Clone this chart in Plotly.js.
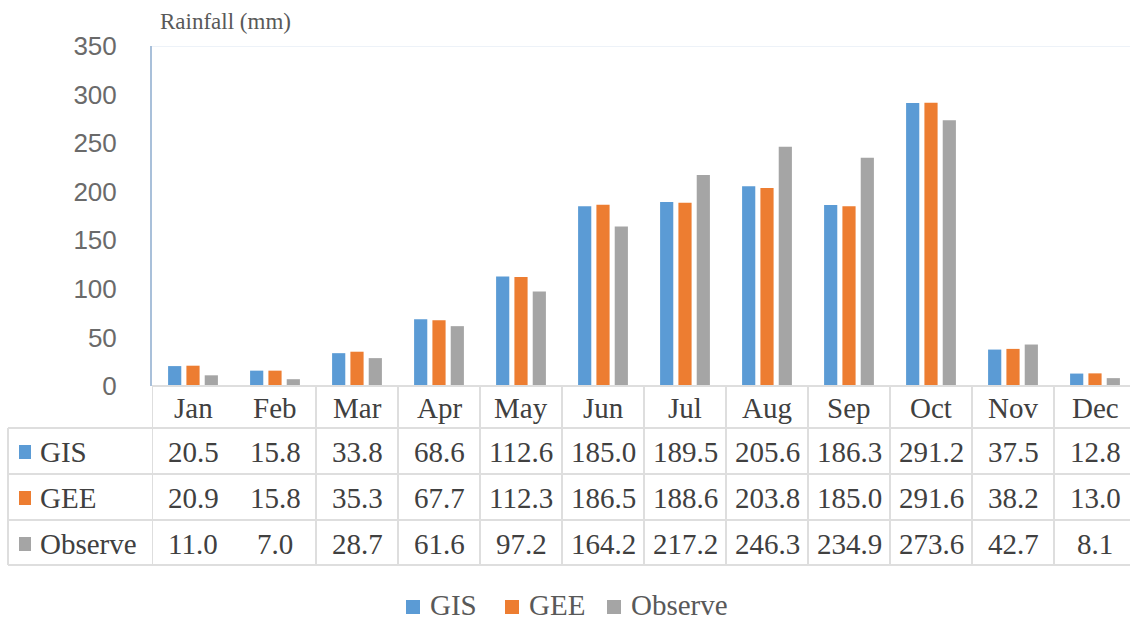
<!DOCTYPE html>
<html>
<head>
<meta charset="utf-8">
<script src="https://cdn.plot.ly/plotly-3.0.1.min.js"></script>
<style>
  html, body { margin: 0; padding: 0; background: #ffffff; }
  #chart { width: 1130px; height: 623px; }
</style>
</head>
<body>
<div id="chart"></div>
<script>
// ---- data ----
const months = ["Jan","Feb","Mar","Apr","May","Jun","Jul","Aug","Sep","Oct","Nov","Dec"];
const gis     = [20.5, 15.8, 33.8, 68.6, 112.6, 185.0, 189.5, 205.6, 186.3, 291.2, 37.5, 12.8];
const gee     = [20.9, 15.8, 35.3, 67.7, 112.3, 186.5, 188.6, 203.8, 185.0, 291.6, 38.2, 13.0];
const observe = [11.0, 7.0, 28.7, 61.6, 97.2, 164.2, 217.2, 246.3, 234.9, 273.6, 42.7, 8.1];
const seriesNames = ["GIS", "GEE", "Observe"];
const yTicks = [0, 50, 100, 150, 200, 250, 300, 350];
const yTitle = "Rainfall (mm)";

// ---- styling ----
const W = 1130, H = 623;
const plotTop = 46, plotBottom = 386, plotLeft = 152;
const colStep = 82;
const colors = ["#5B9BD5", "#ED7D31", "#A5A5A5"];
const serif = "Liberation Serif";
const txt = "#404040";
const gridC = "#dedede";

const py = p => (plotBottom - p) / (plotBottom - plotTop); // pixel y -> paper y
const px = p => p / W;                                      // pixel x -> paper x

const seriesData = [gis, gee, observe];
const traces = seriesData.map((vals, i) => ({
  type: "bar",
  name: seriesNames[i],
  x: months,
  y: vals,
  marker: { color: colors[i] },
  hoverinfo: "x+y+name",
  showlegend: false
}));

const shapes = [];
const annotations = [];

// table geometry (pixels)
const rowLines = [428, 474, 520, 565];
const rowCenters = [452, 498, 544];
const headerCenter = 408;
const tableLeft = 8;

// horizontal lines
shapes.push({type:"line", xref:"paper", yref:"paper", x0:px(plotLeft), x1:1, y0:0, y1:0,
  line:{color:gridC, width:2}});
rowLines.forEach(r => shapes.push({type:"line", xref:"paper", yref:"paper",
  x0:px(tableLeft), x1:1, y0:py(r), y1:py(r), line:{color:gridC, width:2}}));
// left column vertical border
shapes.push({type:"line", xref:"paper", yref:"paper", x0:px(tableLeft), x1:px(tableLeft),
  y0:py(rowLines[0]), y1:py(rowLines[3]), line:{color:gridC, width:2}});
// column boundaries (reference shows no line between Jan and Feb)
for (let i = 0; i <= months.length; i++) {
  if (i === 1) continue;
  shapes.push({type:"line", xref:"x", yref:"paper", x0:i-0.5, x1:i-0.5,
    y0:0, y1:py(rowLines[3]), line:{color:gridC, width:2}});
}
// faint top border of plot
shapes.push({type:"line", xref:"paper", yref:"y", x0:px(plotLeft), x1:1, y0:350, y1:350,
  line:{color:"#edf2f8", width:2}});

// month header labels
months.forEach(m => annotations.push({xref:"x", yref:"paper", x:m, y:py(headerCenter),
  text:m, showarrow:false, xanchor:"center", yanchor:"middle",
  font:{family:serif, size:29, color:txt}}));

// row labels with colour keys and values
seriesData.forEach((vals, r) => {
  const cy = rowCenters[r];
  shapes.push({type:"rect", xref:"paper", yref:"paper",
    x0:px(19), x1:px(31), y0:py(cy-7), y1:py(cy+7),
    fillcolor:colors[r], line:{width:0}});
  annotations.push({xref:"paper", yref:"paper", x:px(38), y:py(cy), text:seriesNames[r],
    showarrow:false, xanchor:"left", yanchor:"middle",
    font:{family:serif, size:29, color:txt}});
  vals.forEach((v, c) => annotations.push({xref:"x", yref:"paper", x:months[c], y:py(cy),
    text:v.toFixed(1), showarrow:false, xanchor:"center", yanchor:"middle",
    font:{family:serif, size:29, color:txt}}));
});

// bottom legend (drawn manually so it does not push the margins)
const legendBoxX = [406, 505, 607];
const legendBoxY = 607;
seriesNames.forEach((name, i) => {
  shapes.push({type:"rect", xref:"paper", yref:"paper",
    x0:px(legendBoxX[i]), x1:px(legendBoxX[i] + 14), y0:py(legendBoxY - 7), y1:py(legendBoxY + 7),
    fillcolor:colors[i], line:{width:0}});
  annotations.push({xref:"paper", yref:"paper", x:px(legendBoxX[i] + 23), y:py(622),
    text:name, showarrow:false, xanchor:"left", yanchor:"bottom", borderpad:0,
    font:{family:serif, size:29, color:"#595959"}});
});

// y axis title at top-left
annotations.push({xref:"paper", yref:"paper", x:px(158), y:py(21), text:yTitle,
  showarrow:false, xanchor:"left", yanchor:"middle",
  font:{family:serif, size:23, color:"#595959"}});

const layout = {
  width: W, height: H,
  margin: {l:0, r:0, t:plotTop, b:H-plotBottom, pad:0},
  paper_bgcolor: "#ffffff", plot_bgcolor: "#ffffff",
  font: {family: serif},
  barmode: "group", bargap: 0.33, bargroupgap: 0.28,
  showlegend: false,
  xaxis: {domain:[px(plotLeft), 1], range:[-0.5, (W-plotLeft)/colStep - 0.5],
    type:"category", showticklabels:false, ticks:"", showgrid:false, zeroline:false, showline:false},
  yaxis: {range:[0, 350], tickvals:yTicks, ticktext:yTicks.map(String),
    showgrid:false, zeroline:false, showline:true, linecolor:"#a9c0da", linewidth:2,
    ticks:"", ticklabelstandoff:28,
    tickfont:{family:"Liberation Sans", size:26, color:"#6a6a6a"}},
  shapes: shapes,
  annotations: annotations
};

Plotly.newPlot("chart", traces, layout, {displayModeBar:false, staticPlot:true});
</script>
</body>
</html>
